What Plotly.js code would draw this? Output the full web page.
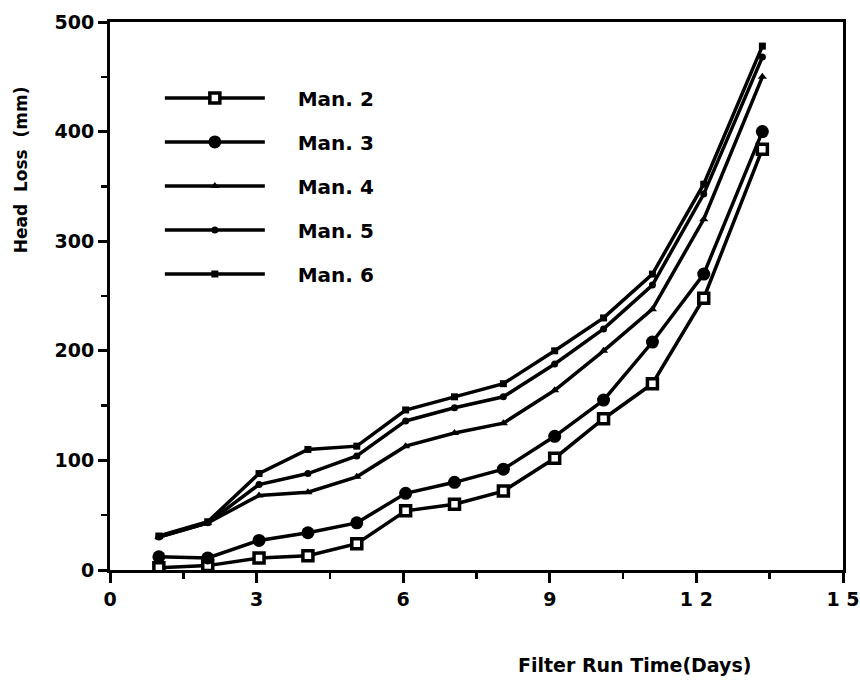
<!DOCTYPE html>
<html>
<head>
<meta charset="utf-8">
<script src="https://cdn.plot.ly/plotly-3.0.1.min.js"></script>
<style>
html,body{margin:0;padding:0;background:#fff;}
#chart{width:860px;height:681px;}
</style>
</head>
<body>
<div id="chart"></div>
<script>
// Data
const days = [1, 2, 3.05, 4.05, 5.05, 6.05, 7.05, 8.05, 9.1, 10.1, 11.1, 12.15, 13.35];
const man2 = [2, 4, 11, 13, 24, 54, 60, 72, 102, 138, 170, 248, 384];
const man3 = [12, 11, 27, 34, 43, 70, 80, 92, 122, 155, 208, 270, 400];
const man4 = [30, 43, 68, 71, 85, 113, 125, 134, 164, 200, 238, 320, 450];
const man5 = [30, 43, 78, 88, 104, 136, 148, 158, 188, 220, 260, 343, 468];
const man6 = [31, 44, 88, 110, 113, 146, 158, 170, 200, 230, 270, 352, 478];
const seriesNames = ["Man. 2", "Man. 3", "Man. 4", "Man. 5", "Man. 6"];
const xTickVals = [0, 3, 6, 9, 12, 15];
const xTickText = ["0", "3", "6", "9", "1 2", "1 5"];
const yTickVals = [0, 100, 200, 300, 400, 500];
const yTickText = ["0", "100", "200", "300", "400", "500"];
const xTitle = "Filter Run Time(Days)";
const yTitle = "Head  Loss  (mm)";

const FONT = "DejaVu Sans, Liberation Sans, Arial, sans-serif";
const NB = "\u00A0\u00A0\u00A0\u00A0";
const seriesData = [man2, man3, man4, man5, man6];
const markerStyles = [
  {symbol: "square", size: 10, color: "#fff", line: {color: "#000", width: 3.5}},
  {symbol: "circle", size: 13, color: "#000", line: {color: "#000", width: 0}},
  {symbol: "triangle-up", size: 8, color: "#000", line: {color: "#000", width: 0}},
  {symbol: "circle", size: 7, color: "#000", line: {color: "#000", width: 0}},
  {symbol: "square", size: 7, color: "#000", line: {color: "#000", width: 0}}
];

const traces = seriesData.map((ys, i) => ({
  type: "scatter",
  mode: "lines+markers",
  x: days,
  y: ys,
  name: NB + seriesNames[i],
  legendgroup: "g" + i,
  line: {color: "#000", width: 3.5},
  marker: markerStyles[i]
}));

const layout = {
  width: 860,
  height: 681,
  paper_bgcolor: "#fff",
  plot_bgcolor: "#fff",
  margin: {l: 110, r: 17, t: 22, b: 111},
  font: {family: FONT, color: "#000", size: 19, weight: "bold"},
  showlegend: true,
  legend: {
    x: 0.068, y: 0.897, xanchor: "left", yanchor: "top",
    bgcolor: "rgba(0,0,0,0)",
    font: {family: FONT, size: 20, color: "#000", weight: "bold"},
    itemwidth: 100,
    tracegroupgap: 15
  },
  xaxis: {
    range: [0, 15],
    tickvals: xTickVals,
    ticktext: xTickText,
    ticks: "outside",
    ticklen: 10,
    tickwidth: 3,
    tickcolor: "#000",
    minor: {dtick: 1.5, ticks: "outside", ticklen: 6, tickwidth: 2.5, tickcolor: "#000", showgrid: false},
    showline: true,
    linewidth: 3,
    linecolor: "#000",
    mirror: true,
    showgrid: false,
    zeroline: false,
    tickfont: {family: FONT, size: 19, color: "#000", weight: "bold"}
  },
  yaxis: {
    range: [0, 500],
    tickvals: yTickVals,
    ticktext: yTickText,
    ticks: "outside",
    ticklen: 9,
    tickwidth: 3,
    tickcolor: "#000",
    minor: {dtick: 50, ticks: "outside", ticklen: 6, tickwidth: 2.5, tickcolor: "#000", showgrid: false},
    showline: true,
    linewidth: 3,
    linecolor: "#000",
    mirror: true,
    showgrid: false,
    zeroline: false,
    tickfont: {family: FONT, size: 19, color: "#000", weight: "bold"}
  },
  annotations: [
    {text: xTitle, xref: "paper", yref: "paper", x: 0.716, y: -0.173,
     xanchor: "center", yanchor: "middle", showarrow: false,
     font: {family: FONT, size: 19, color: "#000", weight: "bold"}},
    {text: yTitle, xref: "paper", yref: "paper", x: -0.121, y: 0.73,
     xanchor: "center", yanchor: "middle", showarrow: false, textangle: -90,
     font: {family: FONT, size: 17, color: "#000", weight: "bold"}}
  ]
};

Plotly.newPlot("chart", traces, layout, {staticPlot: true, displayModeBar: false});
</script>
</body>
</html>
